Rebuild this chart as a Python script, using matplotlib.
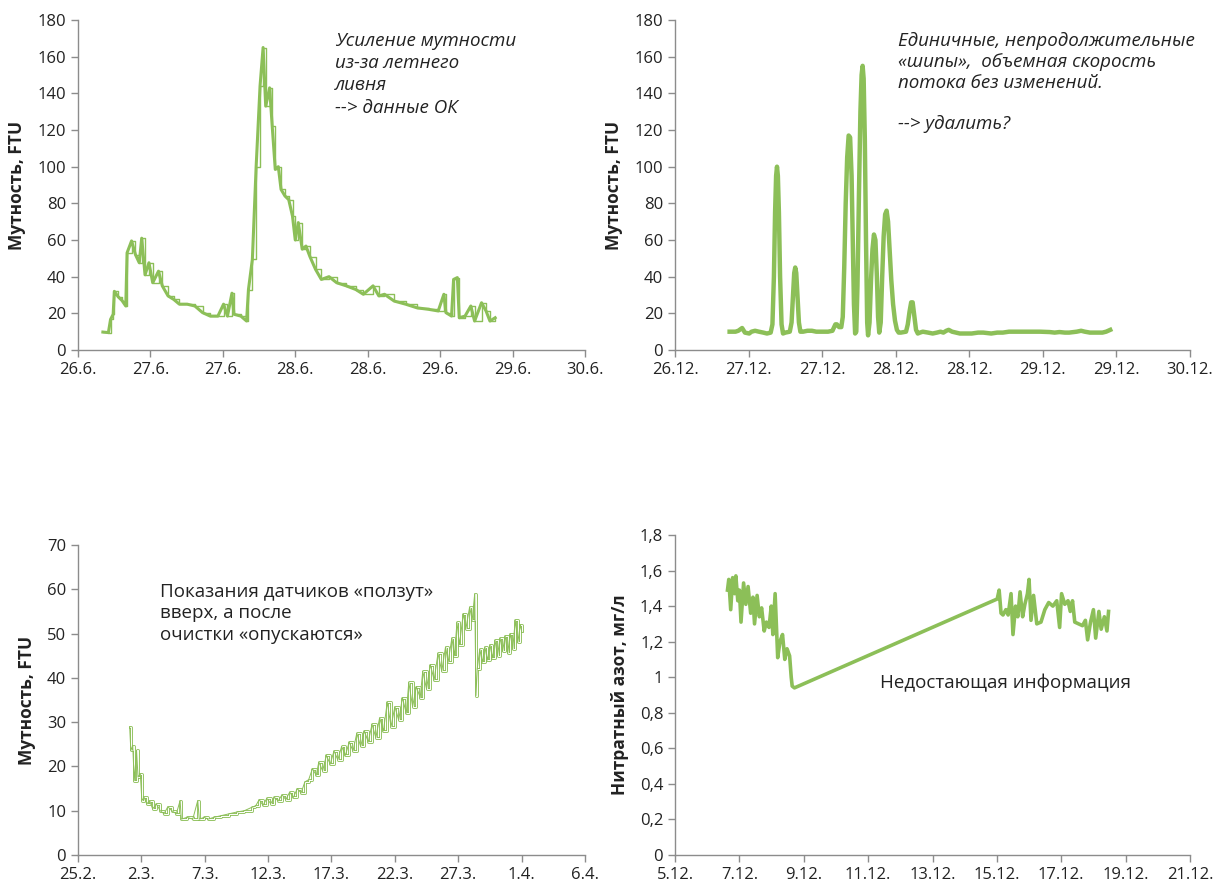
import matplotlib
matplotlib.use('Agg')
import matplotlib.pyplot as plt

plt.rcParams['font.family'] = ['Open Sans', 'DejaVu Sans']

GREEN = '#8cbf58'
GRAY = '#8c8c8c'

# --- panel 1: summer rain (days after 26.6. 12:00)
t1 = [0.172, 0.21, 0.225, 0.243, 0.251, 0.278, 0.304, 0.33, 0.339, 0.37, 0.397, 0.423, 0.44, 0.463,
      0.49, 0.516, 0.556, 0.582, 0.622, 0.661, 0.70, 0.754, 0.807, 0.86, 0.913, 0.966, 1.005, 1.032,
      1.063, 1.077, 1.124, 1.164, 1.177, 1.204, 1.23, 1.257, 1.278, 1.296, 1.323, 1.341, 1.362, 1.383,
      1.402, 1.429, 1.455, 1.481, 1.5, 1.521, 1.548, 1.574, 1.601, 1.64, 1.68, 1.733, 1.786, 1.852,
      1.918, 1.97, 2.037, 2.077, 2.116, 2.183, 2.262, 2.341, 2.42, 2.487, 2.526, 2.54, 2.579, 2.593,
      2.619, 2.632, 2.672, 2.712, 2.738, 2.786, 2.817, 2.844, 2.88]
v1 = [9.8, 9.5, 16.7, 19.5, 32, 29, 27, 24, 53, 59.5, 52, 47.6, 61, 41,
      47.6, 36.7, 43, 35, 29.5, 27.6, 25, 25, 24, 20.4, 18.5, 18.5, 25, 18.5,
      31, 19.5, 18.5, 15.8, 33, 49.5, 100, 144, 165, 133, 143, 122, 98.5, 100,
      87.6, 84, 82, 73, 60, 69.5, 55, 56.7, 51, 44, 38.5, 40, 36.7, 35,
      33, 30.4, 35, 29.5, 30.4, 26.7, 25, 23, 22.2, 21.3, 30.4, 20.4, 18.5, 38.5,
      39.5, 17.6, 18.5, 24, 15.8, 25.8, 21.3, 15.8, 17.6]
labels1 = ['26.6.', '27.6.', '27.6.', '28.6.', '28.6.', '29.6.', '29.6.', '30.6.']

# --- panel 2: single spikes (days after 26.12. 12:00)
t2 = [0.371, 0.411, 0.430, 0.456, 0.475, 0.504, 0.52, 0.544, 0.57, 0.60, 0.625,
      0.650, 0.662, 0.672, 0.680, 0.687, 0.693, 0.699, 0.706, 0.714, 0.724, 0.734, 0.75,
      0.780, 0.792, 0.802, 0.810, 0.817, 0.824, 0.832, 0.842, 0.852, 0.87,
      0.90, 0.93, 0.96, 1.0, 1.04, 1.07, 1.090, 1.100, 1.115, 1.130,
      1.140, 1.150, 1.160, 1.170, 1.180, 1.190, 1.200, 1.208, 1.216, 1.224,
      1.232, 1.240, 1.250, 1.260, 1.268, 1.275, 1.282, 1.290, 1.298, 1.306, 1.312,
      1.322, 1.332, 1.342, 1.352, 1.362, 1.372, 1.380, 1.388,
      1.398, 1.408, 1.418, 1.428, 1.438, 1.448, 1.458, 1.470, 1.482, 1.495, 1.508, 1.52, 1.535,
      1.570, 1.582, 1.594, 1.605, 1.615, 1.626, 1.638, 1.650,
      1.665, 1.684, 1.72, 1.751, 1.78, 1.804, 1.824, 1.844, 1.86, 1.883, 1.91, 1.936, 1.98, 2.016,
      2.06, 2.095, 2.149, 2.19, 2.228, 2.27, 2.308, 2.36, 2.414, 2.48, 2.546, 2.58, 2.613, 2.65,
      2.679, 2.73, 2.76, 2.785, 2.82, 2.86, 2.905, 2.93, 2.958]
v2 = [10, 10, 10.5, 12, 9.5, 9, 10, 10.5, 10, 9.5, 9,
      9.5, 14, 40, 75, 95, 100, 95, 75, 40, 14, 9, 9.5,
      10, 15, 30, 42, 45, 42, 30, 15, 10, 10,
      10.5, 10.5, 10, 10, 10, 10.5, 14, 14, 12.5, 12.5,
      18, 45, 80, 105, 117, 116, 95, 60, 25, 9,
      10, 35, 85, 130, 150, 155, 148, 115, 60, 15, 8,
      15, 38, 55, 63, 60, 40, 18, 9.5,
      15, 40, 62, 74, 76, 70, 55, 38, 25, 16, 11, 9.5, 9.5,
      10, 14, 21, 26, 26, 19, 11, 9,
      9.5, 10, 9.5, 9, 9.5, 10, 9.5, 10.5, 11, 10, 9.5, 9, 9, 9,
      9.5, 9.5, 9, 9.5, 9.5, 10, 10, 10, 10, 10, 9.8, 9.5, 9.8, 9.5,
      9.5, 10, 10.5, 10, 9.5, 9.5, 9.5, 10, 11]
labels2 = ['26.12.', '27.12.', '27.12.', '28.12.', '28.12.', '29.12.', '29.12.', '30.12.']

# --- panel 3: sensor drift (days after 25.2.)
t3 = [4.08, 4.17, 4.32, 4.44, 4.62, 4.74, 4.92, 5.04, 5.22, 5.43, 5.65, 5.89, 6.19, 6.49, 6.79,
      7.09, 7.40, 7.76, 8.06, 8.15, 8.60, 9.06, 9.45, 9.57, 9.96, 10.26, 10.72, 11.32, 11.92, 12.53,
      13.13, 13.74, 14.0, 14.3, 14.6, 14.9, 15.2, 15.5, 15.8, 16.1, 16.4, 16.7, 17.0, 17.3, 17.6,
      17.9, 18.2, 18.5, 18.8, 19.0, 19.3, 19.6, 19.9, 20.2, 20.5, 20.8, 21.1, 21.4, 21.7, 22.0,
      22.3, 22.6, 22.9, 23.2, 23.5, 23.8, 24.1, 24.4, 24.7, 25.0, 25.3, 25.6, 25.9, 26.1, 26.4,
      26.7, 27.0, 27.2, 27.5, 27.8, 28.1, 28.4, 28.7, 29.0, 29.2, 29.5, 29.7, 29.9, 30.1, 30.4,
      30.6, 30.9, 31.1, 31.3, 31.4, 31.5, 31.7, 31.9, 32.1, 32.3, 32.5, 32.7, 32.9, 33.1, 33.3,
      33.5, 33.7, 33.9, 34.1, 34.3, 34.5, 34.7, 34.9, 35.0]
v3 = [28.9, 23.6, 24.7, 16.8, 23.6, 17.6, 18.3, 12.3, 13, 11.5, 12.3, 10.4, 11.5, 10, 9.3,
      10.9, 10, 9.3, 12.3, 8.1, 8.5, 8.1, 12.3, 8.1, 8.5, 8.1, 8.5, 8.9, 9.3, 9.7,
      10, 10.8, 11.0, 12.5, 11.2, 12.8, 11.6, 13.0, 12.2, 13.6, 12.5, 14.2, 13.0, 15.0, 14.0,
      16.5, 17.0, 19.5, 18.0, 21.0, 19.0, 22.5, 20.5, 23.5, 21.5, 24.5, 22.5, 25.5, 23.5, 27.5,
      24.5, 28.0, 25.5, 29.5, 26.5, 31.0, 28.0, 34.5, 29.0, 33.5, 30.5, 35.5, 32.0, 39.0, 33.5,
      38.0, 35.5, 41.5, 37.5, 43.0, 39.5, 45.5, 41.5, 47.0, 43.5, 49.0, 45.0, 52.5, 47.5, 54.5,
      51.0, 56.0, 53.0, 59.0, 36.0, 42.0, 46.5, 43.5, 47.0, 44.0, 47.5, 44.5, 48.5, 45.0, 49.0,
      46.0, 49.5, 45.5, 50.0, 46.5, 53.0, 48.0, 52.0, 50.5]
labels3 = ['25.2.', '2.3.', '7.3.', '12.3.', '17.3.', '22.3.', '27.3.', '1.4.', '6.4.']

# --- panel 4: nitrate nitrogen with a gap (days after 5.12.)
t4 = [1.63, 1.67, 1.73, 1.79, 1.85, 1.89, 1.95, 2.00, 2.05, 2.13, 2.20, 2.27, 2.35, 2.42, 2.47,
      2.55, 2.62, 2.69, 2.77, 2.84, 2.92, 2.99, 3.04, 3.11, 3.19, 3.26, 3.34, 3.41, 3.48, 3.56,
      3.61, 3.64, 3.71, 10.01, 10.07, 10.13, 10.19, 10.28, 10.35, 10.44, 10.50, 10.58, 10.65,
      10.72, 10.80, 10.87, 10.95, 11.00, 11.06, 11.14, 11.24, 11.37, 11.49, 11.61, 11.74, 11.86,
      11.95, 12.01, 12.11, 12.21, 12.28, 12.35, 12.42, 12.54, 12.66, 12.75, 12.82, 12.91, 13.00,
      13.07, 13.17, 13.24, 13.34, 13.42, 13.47]
v4 = [1.49, 1.55, 1.38, 1.56, 1.47, 1.57, 1.43, 1.49, 1.31, 1.53, 1.41, 1.51, 1.36, 1.45, 1.30,
      1.46, 1.34, 1.39, 1.26, 1.31, 1.28, 1.40, 1.24, 1.47, 1.11, 1.20, 1.24, 1.10, 1.16, 1.12,
      1.00, 0.95, 0.94, 1.44, 1.49, 1.36, 1.35, 1.38, 1.35, 1.47, 1.24, 1.40, 1.34,
      1.48, 1.34, 1.41, 1.47, 1.55, 1.32, 1.46, 1.30, 1.31, 1.38, 1.42, 1.40, 1.43,
      1.28, 1.47, 1.41, 1.43, 1.37, 1.43, 1.31, 1.30, 1.29, 1.32, 1.21, 1.31, 1.38,
      1.22, 1.37, 1.27, 1.34, 1.26, 1.37]
labels4 = ['5.12.', '7.12.', '9.12.', '11.12.', '13.12.', '15.12.', '17.12.', '19.12.', '21.12.']
ticks4_y = [0, 0.2, 0.4, 0.6, 0.8, 1.0, 1.2, 1.4, 1.6, 1.8]
labels4_y = ['0', '0,2', '0,4', '0,6', '0,8', '1', '1,2', '1,4', '1,6', '1,8']


def style(ax, xticks, xlabels, ylim, yticks, ylabel):
    ax.set_xlim(xticks[0], xticks[-1])
    ax.set_ylim(*ylim)
    ax.set_xticks(xticks)
    ax.set_xticklabels(xlabels)
    ax.set_yticks(yticks)
    for s in ['top', 'right']:
        ax.spines[s].set_visible(False)
    for s in ['left', 'bottom']:
        ax.spines[s].set_color(GRAY)
        ax.spines[s].set_linewidth(1.0)
    ax.tick_params(colors=GRAY, labelcolor='#222222', labelsize=12, length=5, width=1)
    ax.set_ylabel(ylabel, fontsize=12.5, fontweight='bold', color='#222222', labelpad=8)


fig = plt.figure(figsize=(12.22, 8.85), dpi=100)
ax1 = fig.add_axes([0.0638, 0.6045, 0.4149, 0.3729])
ax2 = fig.add_axes([0.5524, 0.6045, 0.4214, 0.3729])
ax3 = fig.add_axes([0.0638, 0.0339, 0.4149, 0.3503])
ax4 = fig.add_axes([0.5524, 0.0339, 0.4214, 0.3616])

ax1.plot(t1, v1, color=GREEN, lw=2.2)
ax1.plot(t1, v1, color=GREEN, lw=1.0, drawstyle='steps-post')
style(ax1, [0.5 * i for i in range(8)], labels1, (0, 180), range(0, 181, 20), 'Мутность, FTU')

ax2.plot(t2, v2, color=GREEN, lw=3.2, solid_joinstyle='round')
style(ax2, [0.5 * i for i in range(8)], labels2, (0, 180), range(0, 181, 20), 'Мутность, FTU')

ax3.plot(t3, v3, color=GREEN, lw=2.0, drawstyle='steps-post')
ax3.plot(t3, v3, color='white', lw=0.7, drawstyle='steps-post')
ax3.plot(t3, v3, color=GREEN, lw=0.7)
style(ax3, list(range(0, 41, 5)), labels3, (0, 70), range(0, 71, 10), 'Мутность, FTU')

ax4.plot(t4, v4, color=GREEN, lw=2.6)
style(ax4, list(range(0, 17, 2)), labels4, (0, 1.8), ticks4_y, 'Нитратный азот, мг/л')
ax4.set_yticklabels(labels4_y)

fig.text(335 / 1222, 1 - 32 / 885, 'Усиление мутности\nиз-за летнего\nливня\n--> данные ОК',
         fontsize=13.5, style='italic', va='top', ha='left', linespacing=1.3, color='#222222')
fig.text(898 / 1222, 1 - 32 / 885,
         'Единичные, непродолжительные\n«шипы»,  объемная скорость\nпотока без изменений.\n\n--> удалить?',
         fontsize=13.5, style='italic', va='top', ha='left', linespacing=1.2, color='#222222')
fig.text(160 / 1222, 1 - 583 / 885, 'Показания датчиков «ползут»\nвверх, а после\nочистки «опускаются»',
         fontsize=13.5, va='top', ha='left', linespacing=1.25, color='#222222')
fig.text(880 / 1222, 1 - 683 / 885, 'Недостающая информация',
         fontsize=13.5, va='center', ha='left', color='#222222')

fig.savefig('out.png', dpi=100)
